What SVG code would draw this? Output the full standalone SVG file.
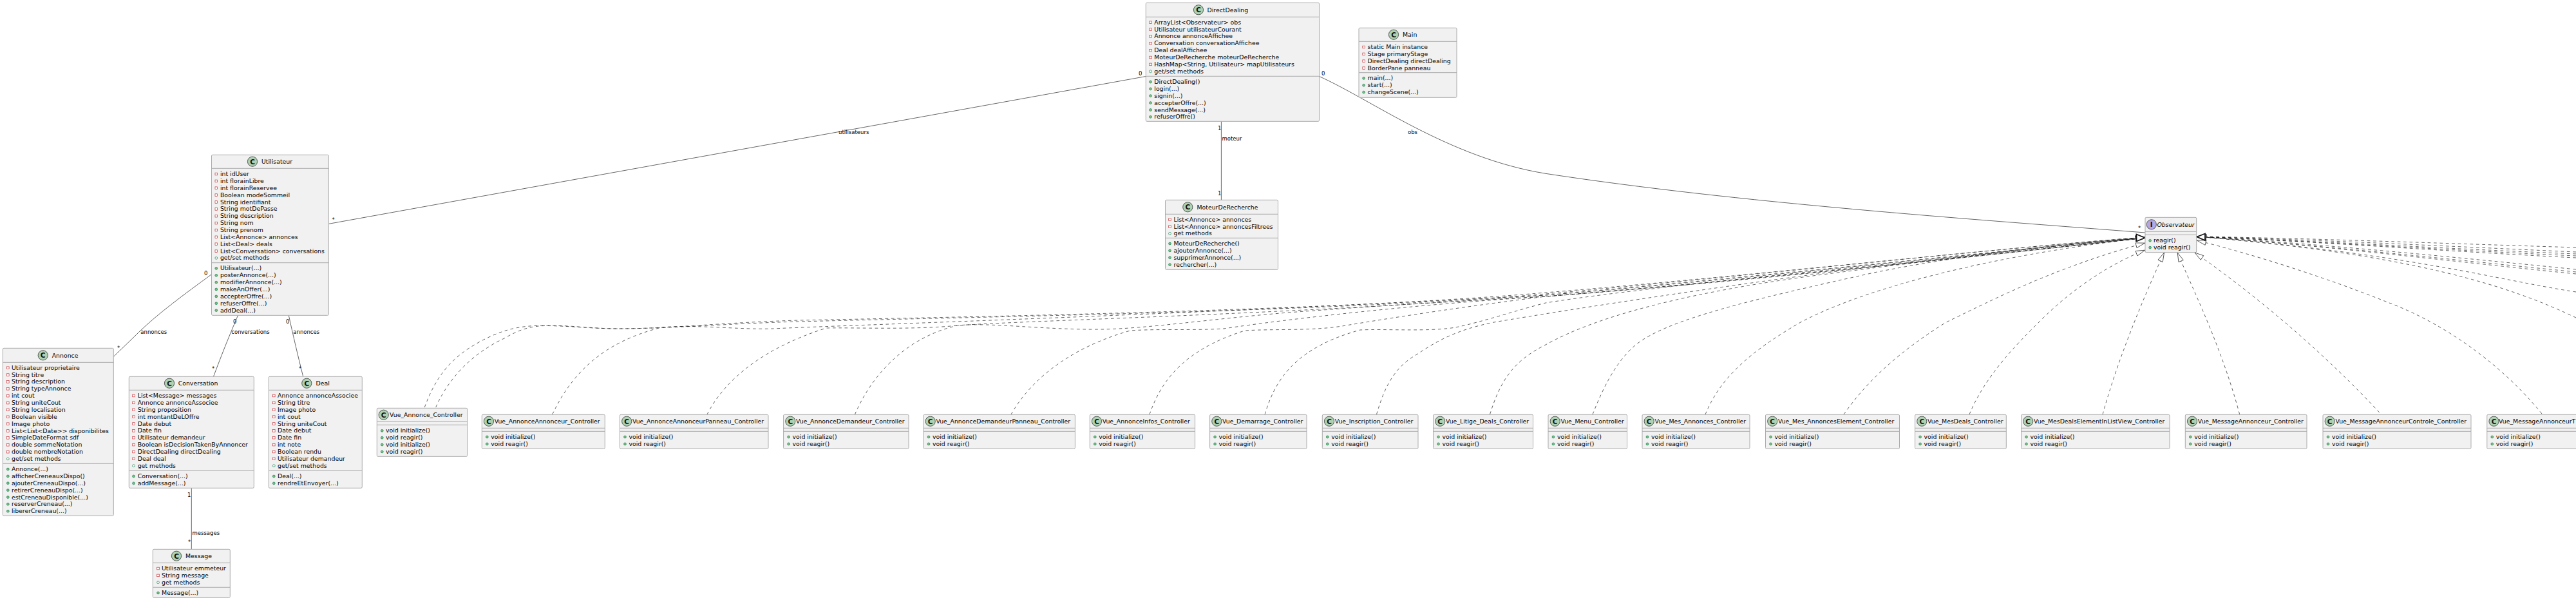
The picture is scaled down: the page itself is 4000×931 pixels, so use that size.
<svg xmlns="http://www.w3.org/2000/svg" xmlns:xlink="http://www.w3.org/1999/xlink" width="4000" height="931" viewBox="0 0 4000 931">
<style>
text{font-family:"DejaVu Sans",sans-serif;font-size:9.35px;fill:#000}
.l{font-size:8.5px}
.it{font-style:italic}
.b{fill:#F1F1F1;stroke:#ababab;stroke-width:1}
.s{stroke:#ababab;stroke-width:1;fill:none}
.ci{fill:#ADD1B2;stroke:#181818;stroke-width:.67}
.ii{fill:#B4A7E5;stroke:#181818;stroke-width:.67}
.g{font-weight:bold;font-size:10.5px;text-anchor:middle;fill:#111}
.a{fill:none;stroke:#181818;stroke-width:.67}
.d{fill:none;stroke:#181818;stroke-width:.67;stroke-dasharray:4.7 4.7;marker-end:url(#tri)}
.h{fill:#fff;stroke:#181818;stroke-width:1.8}
</style>
<defs>
<marker id="tri" markerUnits="userSpaceOnUse" markerWidth="17" markerHeight="11" refX="15.5" refY="5" orient="auto"><path d="M1,1 L15,5 L1,9 Z" fill="#fff" stroke="#181818" stroke-width=".67"/></marker>
<rect id="fp" x="-1.8" y="-1.8" width="3.6" height="3.6" fill="#fff" stroke="#C82930" stroke-width=".67"/>
<circle id="gs" r="1.9" fill="#fff" stroke="#038048" stroke-width=".67"/>
<circle id="mp" r="1.9" fill="#84BE84" stroke="#038048" stroke-width=".67"/>
</defs>
<g id="connectors">
<path class="a" d="M1779.3,118.5 L510.3,347.4"/>
<path class="a" d="M328.5,425.7 C287,456 246,486 216,515 C202,529 190,540 176.3,553.5"/>
<path class="a" d="M369.5,489.3 C360,512 350,535 331.5,584.3"/>
<path class="a" d="M448.3,489.3 C454,515 462,550 470.7,584.3"/>
<path class="a" d="M297.3,757.3 L297.3,852.3"/>
<path class="a" d="M1896.4,188.3 L1896.4,310.3"/>
<path class="a" d="M2048.5,118.5 C2130,155 2250,245 2400,269.3 C2700,315 3060,340 3331,361"/>
<path class="d" d="M659.3,632 C680,575 710,545 766,520 C790,510 810,505 850,505 C890,505 920,510 960,510 C1040,510 1130,500 1240,497 C1600,490 2100,480 2400,454 C2700,430 3100,385 3331,368"/>
<path class="d" d="M676.7,632 C695,590 730,550 783,525 C805,512 825,505 850,505.5 C890,506 920,510 960,510 C1040,510 1130,502 1240,499 C1600,490 2100,482 2400,456 C2700,430 3100,385 3331,368"/>
<path class="d" d="M857.7,643 C890,575 940,530 1027,508 C1080,503 1150,512 1200,510 C1300,505 1800,490 2400,458 C2700,432 3100,390 3331,368.5"/>
<path class="d" d="M1098,643 C1120,600 1170,545 1283,509 C1330,508 1420,512 1487,505 C1600,497 2000,488 2400,458 C2700,434 3100,390 3331,368.5"/>
<path class="d" d="M1327.5,643 C1350,590 1400,525 1487,505 C1540,500 1620,512 1710,511 C1780,510 1880,495 2000,485 C2200,470 2300,466 2400,460 C2700,436 3100,395 3331,369"/>
<path class="d" d="M1570,643 C1600,590 1660,540 1755,513 C1800,510 1850,513 1900,510 C2000,495 2200,472 2400,460 C2700,436 3100,395 3331,369"/>
<path class="d" d="M1785,643 C1800,600 1830,545 1933,513 C1980,510 2040,514 2090,505 C2180,490 2280,475 2400,460 C2700,438 3100,395 3331,369"/>
<path class="d" d="M1964,643 C1980,590 2010,540 2112,512 C2150,510 2220,515 2260,508 C2300,500 2360,480 2400,470 C2600,438 3100,395 3331,369"/>
<path class="d" d="M2137.5,643 C2150,600 2165,570 2200,550 C2230,530 2260,512 2320,500 C2450,478 2700,440 2900,415 C3050,398 3200,378 3331,369"/>
<path class="d" d="M2313.5,643 C2330,590 2350,560 2400,535 C2480,490 2620,455 2800,430 C2950,410 3150,385 3331,369"/>
<path class="d" d="M2473,643 C2490,600 2510,560 2540,535 C2590,495 2720,465 2910,423 C3050,395 3200,378 3331,369"/>
<path class="d" d="M2648,643 C2670,590 2710,550 2796,500 C2900,445 3100,395 3331,369"/>
<path class="d" d="M2863,643 C2900,590 2950,545 3022,500 C3095,465 3190,415 3331,377"/>
<path class="d" d="M3058,643 C3080,590 3120,545 3166,500 C3210,455 3270,412 3331,388"/>
<path class="d" d="M3265,643 C3285,570 3320,480 3360.7,391.7"/>
<path class="d" d="M3477.7,643 C3450,540 3410,460 3381,391.7"/>
<path class="d" d="M3694.7,640 C3620,560 3520,470 3407.6,391.7"/>
<path class="d" d="M3947,642 C3880,560 3790,500 3710,470 C3610,430 3500,395 3411,373"/>
<path class="d" d="M4000,493 C3900,445 3750,395 3411,367"/>
<path class="d" d="M4000,453 C3880,435 3750,395 3411,367"/>
<path class="d" d="M4000,425 C3800,405 3600,380 3411,367"/>
<path class="d" d="M4000,422 C3800,402 3600,380 3411,367"/>
<path class="d" d="M4000,418 C3800,398 3600,378 3411,367"/>
<path class="d" d="M4000,400 C3800,390 3600,375 3411,367"/>
<path class="d" d="M4000,397 C3800,388 3600,375 3411,367"/>
<path class="d" d="M4000,394 C3800,386 3600,374 3411,367"/>
<path class="d" d="M4000,391 C3800,382 3600,372 3411,367"/>
<path class="d" d="M4000,384 C3800,378 3600,370 3411,367"/>
<path class="h" d="M3317.5,363.5 L3330.5,369 L3317.5,374.5 Z"/>
<path class="h" d="M3424,362.5 L3411.5,367.5 L3424,373 Z"/>
<text class="l" x="1768" y="117">0</text>
<text class="l" x="515.5" y="344">*</text>
<text class="l" x="1302" y="208">utilisateurs</text>
<text class="l" x="317" y="427">0</text>
<text class="l" x="182" y="543">*</text>
<text class="l" x="218.3" y="518">annonces</text>
<text class="l" x="362" y="502">0</text>
<text class="l" x="329" y="575">*</text>
<text class="l" x="359.3" y="518">conversations</text>
<text class="l" x="444" y="502">0</text>
<text class="l" x="464" y="575">*</text>
<text class="l" x="455.3" y="518">annonces</text>
<text class="l" x="291" y="771">1</text>
<text class="l" x="292" y="844">*</text>
<text class="l" x="298.5" y="830">messages</text>
<text class="l" x="1891" y="202">1</text>
<text class="l" x="1891" y="303">1</text>
<text class="l" x="1897.5" y="217.5">moteur</text>
<text class="l" x="2052" y="117">0</text>
<text class="l" x="2186" y="208">obs</text>
<text class="l" x="3320" y="357">*</text>
</g>
<g id="Utilisateur"><rect class="b" x="328.5" y="240.3" width="181.8" height="249" rx="1.7"/><path class="s" d="M328.5,261.3H510.3M328.5,407.7H510.3"/><circle class="ci" cx="392" cy="250.7" r="7.6"/><text class="g" x="392" y="254.5">C</text><text x="406" y="254">Utilisateur</text>
<use href="#fp" x="335.8" y="270"/><text x="341.9" y="273">int idUser</text><use href="#fp" x="335.8" y="280.9"/><text x="341.9" y="283.9">int florainLibre</text><use href="#fp" x="335.8" y="291.7"/><text x="341.9" y="294.7">int florainReservee</text><use href="#fp" x="335.8" y="302.6"/><text x="341.9" y="305.6">Boolean modeSommeil</text><use href="#fp" x="335.8" y="313.5"/><text x="341.9" y="316.5">String identifiant</text><use href="#fp" x="335.8" y="324.4"/><text x="341.9" y="327.4">String motDePasse</text><use href="#fp" x="335.8" y="335.2"/><text x="341.9" y="338.2">String description</text><use href="#fp" x="335.8" y="346.1"/><text x="341.9" y="349.1">String nom</text><use href="#fp" x="335.8" y="357"/><text x="341.9" y="360">String prenom</text><use href="#fp" x="335.8" y="367.8"/><text x="341.9" y="370.8">List&lt;Annonce&gt; annonces</text><use href="#fp" x="335.8" y="378.7"/><text x="341.9" y="381.7">List&lt;Deal&gt; deals</text><use href="#fp" x="335.8" y="389.6"/><text x="341.9" y="392.6">List&lt;Conversation&gt; conversations</text><use href="#gs" x="335.8" y="400.4"/><text x="341.9" y="403.4">get/set methods</text>
<use href="#mp" x="335.8" y="416.4"/><text x="341.9" y="419.4">Utilisateur(...)</text><use href="#mp" x="335.8" y="427.3"/><text x="341.9" y="430.3">posterAnnonce(...)</text><use href="#mp" x="335.8" y="438.1"/><text x="341.9" y="441.1">modifierAnnonce(...)</text><use href="#mp" x="335.8" y="449"/><text x="341.9" y="452">makeAnOffer(...)</text><use href="#mp" x="335.8" y="459.9"/><text x="341.9" y="462.9">accepterOffre(...)</text><use href="#mp" x="335.8" y="470.7"/><text x="341.9" y="473.7">refuserOffre(...)</text><use href="#mp" x="335.8" y="481.6"/><text x="341.9" y="484.6">addDeal(...)</text></g>
<g id="Annonce"><rect class="b" x="4.3" y="540.3" width="172" height="260" rx="1.7"/><path class="s" d="M4.3,562.3H176.3M4.3,719.3H176.3"/><circle class="ci" cx="66.7" cy="551.3" r="7.6"/><text class="g" x="66.7" y="555">C</text><text x="80.7" y="555">Annonce</text>
<use href="#fp" x="12.3" y="570.7"/><text x="18" y="573.7">Utilisateur proprietaire</text><use href="#fp" x="12.3" y="581.6"/><text x="18" y="584.6">String titre</text><use href="#fp" x="12.3" y="592.4"/><text x="18" y="595.4">String description</text><use href="#fp" x="12.3" y="603.3"/><text x="18" y="606.3">String typeAnnonce</text><use href="#fp" x="12.3" y="614.2"/><text x="18" y="617.2">int cout</text><use href="#fp" x="12.3" y="625.1"/><text x="18" y="628.1">String uniteCout</text><use href="#fp" x="12.3" y="635.9"/><text x="18" y="638.9">String localisation</text><use href="#fp" x="12.3" y="646.8"/><text x="18" y="649.8">Boolean visible</text><use href="#fp" x="12.3" y="657.7"/><text x="18" y="660.7">Image photo</text><use href="#fp" x="12.3" y="668.5"/><text x="18" y="671.5">List&lt;List&lt;Date&gt;&gt; disponibilites</text><use href="#fp" x="12.3" y="679.4"/><text x="18" y="682.4">SimpleDateFormat sdf</text><use href="#fp" x="12.3" y="690.3"/><text x="18" y="693.3">double sommeNotation</text><use href="#fp" x="12.3" y="701.2"/><text x="18" y="704.2">double nombreNotation</text><use href="#gs" x="12.3" y="712"/><text x="18" y="715">get/set methods</text>
<use href="#mp" x="12.3" y="728"/><text x="18" y="731">Annonce(...)</text><use href="#mp" x="12.3" y="738.9"/><text x="18" y="741.9">afficherCreneauxDispo()</text><use href="#mp" x="12.3" y="749.7"/><text x="18" y="752.7">ajouterCreneauDispo(...)</text><use href="#mp" x="12.3" y="760.6"/><text x="18" y="763.6">retirerCreneauDispo(...)</text><use href="#mp" x="12.3" y="771.5"/><text x="18" y="774.5">estCreneauDisponible(...)</text><use href="#mp" x="12.3" y="782.3"/><text x="18" y="785.3">reserverCreneau(...)</text><use href="#mp" x="12.3" y="793.2"/><text x="18" y="796.2">libererCreneau(...)</text></g>
<g id="Conversation"><rect class="b" x="200.3" y="584.3" width="194" height="173" rx="1.7"/><path class="s" d="M200.3,605.3H394.3M200.3,730.3H394.3"/><circle class="ci" cx="263" cy="594.7" r="7.6"/><text class="g" x="263" y="598.5">C</text><text x="276.7" y="598">Conversation</text>
<use href="#fp" x="207.5" y="614"/><text x="213.7" y="617">List&lt;Message&gt; messages</text><use href="#fp" x="207.5" y="624.9"/><text x="213.7" y="627.9">Annonce annonceAssociee</text><use href="#fp" x="207.5" y="635.7"/><text x="213.7" y="638.7">String proposition</text><use href="#fp" x="207.5" y="646.6"/><text x="213.7" y="649.6">int montantDeLOffre</text><use href="#fp" x="207.5" y="657.5"/><text x="213.7" y="660.5">Date debut</text><use href="#fp" x="207.5" y="668.4"/><text x="213.7" y="671.4">Date fin</text><use href="#fp" x="207.5" y="679.2"/><text x="213.7" y="682.2">Utilisateur demandeur</text><use href="#fp" x="207.5" y="690.1"/><text x="213.7" y="693.1">Boolean isDecisionTakenByAnnoncer</text><use href="#fp" x="207.5" y="701"/><text x="213.7" y="704">DirectDealing directDealing</text><use href="#fp" x="207.5" y="711.8"/><text x="213.7" y="714.8">Deal deal</text><use href="#gs" x="207.5" y="722.7"/><text x="213.7" y="725.7">get methods</text>
<use href="#mp" x="207.5" y="739"/><text x="213.7" y="742">Conversation(...)</text><use href="#mp" x="207.5" y="749.9"/><text x="213.7" y="752.9">addMessage(...)</text></g>
<g id="Deal"><rect class="b" x="417.3" y="584.3" width="145" height="173" rx="1.7"/><path class="s" d="M417.3,605.3H562.3M417.3,730.3H562.3"/><circle class="ci" cx="476.3" cy="594.7" r="7.6"/><text class="g" x="476.3" y="598.5">C</text><text x="490.6" y="598">Deal</text>
<use href="#fp" x="425.3" y="614"/><text x="431" y="617">Annonce annonceAssociee</text><use href="#fp" x="425.3" y="624.9"/><text x="431" y="627.9">String titre</text><use href="#fp" x="425.3" y="635.7"/><text x="431" y="638.7">Image photo</text><use href="#fp" x="425.3" y="646.6"/><text x="431" y="649.6">int cout</text><use href="#fp" x="425.3" y="657.5"/><text x="431" y="660.5">String uniteCout</text><use href="#fp" x="425.3" y="668.4"/><text x="431" y="671.4">Date debut</text><use href="#fp" x="425.3" y="679.2"/><text x="431" y="682.2">Date fin</text><use href="#fp" x="425.3" y="690.1"/><text x="431" y="693.1">int note</text><use href="#fp" x="425.3" y="701"/><text x="431" y="704">Boolean rendu</text><use href="#fp" x="425.3" y="711.8"/><text x="431" y="714.8">Utilisateur demandeur</text><use href="#gs" x="425.3" y="722.7"/><text x="431" y="725.7">get/set methods</text>
<use href="#mp" x="425.3" y="739"/><text x="431" y="742">Deal(...)</text><use href="#mp" x="425.3" y="749.9"/><text x="431" y="752.9">rendreEtEnvoyer(...)</text></g>
<g id="Message"><rect class="b" x="237.3" y="852.3" width="120" height="75" rx="1.7"/><path class="s" d="M237.3,873.3H357.3M237.3,911.3H357.3"/><circle class="ci" cx="274" cy="862.7" r="7.6"/><text class="g" x="274" y="866.5">C</text><text x="288" y="866">Message</text>
<use href="#fp" x="245.5" y="882"/><text x="251" y="885">Utilisateur emmeteur</text><use href="#fp" x="245.5" y="892.9"/><text x="251" y="895.9">String message</text><use href="#gs" x="245.5" y="903.7"/><text x="251" y="906.7">get methods</text><use href="#mp" x="245.5" y="920"/><text x="251" y="923">Message(...)</text></g>
<g id="DirectDealing"><rect class="b" x="1779.3" y="4.3" width="269.2" height="184" rx="1.7"/><path class="s" d="M1779.3,26.3H2048.5M1779.3,118.3H2048.5"/><circle class="ci" cx="1861" cy="15.3" r="7.6"/><text class="g" x="1861" y="19">C</text><text x="1874.5" y="19">DirectDealing</text>
<use href="#fp" x="1786.5" y="34.7"/><text x="1792.3" y="37.7">ArrayList&lt;Observateur&gt; obs</text><use href="#fp" x="1786.5" y="45.6"/><text x="1792.3" y="48.6">Utilisateur utilisateurCourant</text><use href="#fp" x="1786.5" y="56.4"/><text x="1792.3" y="59.4">Annonce annonceAffichee</text><use href="#fp" x="1786.5" y="67.3"/><text x="1792.3" y="70.3">Conversation conversationAffichee</text><use href="#fp" x="1786.5" y="78.2"/><text x="1792.3" y="81.2">Deal dealAffichee</text><use href="#fp" x="1786.5" y="89"/><text x="1792.3" y="92">MoteurDeRecherche moteurDeRecherche</text><use href="#fp" x="1786.5" y="99.9"/><text x="1792.3" y="102.9">HashMap&lt;String, Utilisateur&gt; mapUtilisateurs</text><use href="#gs" x="1786.5" y="110.8"/><text x="1792.3" y="113.8">get/set methods</text>
<use href="#mp" x="1786.5" y="127"/><text x="1792.3" y="130">DirectDealing()</text><use href="#mp" x="1786.5" y="137.9"/><text x="1792.3" y="140.9">login(...)</text><use href="#mp" x="1786.5" y="148.7"/><text x="1792.3" y="151.7">signin(...)</text><use href="#mp" x="1786.5" y="159.6"/><text x="1792.3" y="162.6">accepterOffre(...)</text><use href="#mp" x="1786.5" y="170.5"/><text x="1792.3" y="173.5">sendMessage(...)</text><use href="#mp" x="1786.5" y="181.3"/><text x="1792.3" y="184.3">refuserOffre()</text></g>
<g id="Main" transform="translate(0,2)"><rect class="b" x="2110" y="41.3" width="152" height="108" rx="1.7"/><path class="s" d="M2110,62.3H2262M2110,110.7H2262"/><circle class="ci" cx="2164" cy="51.7" r="7.6"/><text class="g" x="2164" y="55.5">C</text><text x="2178" y="55">Main</text>
<use href="#fp" x="2117.6" y="71"/><text x="2123.6" y="74">static Main instance</text><use href="#fp" x="2117.6" y="81.9"/><text x="2123.6" y="84.9">Stage primaryStage</text><use href="#fp" x="2117.6" y="92.7"/><text x="2123.6" y="95.7">DirectDealing directDealing</text><use href="#fp" x="2117.6" y="103.6"/><text x="2123.6" y="106.6">BorderPane panneau</text>
<use href="#mp" x="2117.6" y="119.4"/><text x="2123.6" y="122.4">main(...)</text><use href="#mp" x="2117.6" y="130.3"/><text x="2123.6" y="133.3">start(...)</text><use href="#mp" x="2117.6" y="141.1"/><text x="2123.6" y="144.1">changeScene(...)</text></g>
<g id="MoteurDeRecherche"><rect class="b" x="1809.5" y="310.3" width="175" height="108" rx="1.7"/><path class="s" d="M1809.5,332.3H1984.5M1809.5,369.3H1984.5"/><circle class="ci" cx="1844.3" cy="321.3" r="7.6"/><text class="g" x="1844.3" y="325">C</text><text x="1858.5" y="325">MoteurDeRecherche</text>
<use href="#fp" x="1816.5" y="340.7"/><text x="1822.5" y="343.7">List&lt;Annonce&gt; annonces</text><use href="#fp" x="1816.5" y="351.6"/><text x="1822.5" y="354.6">List&lt;Annonce&gt; annoncesFiltrees</text><use href="#gs" x="1816.5" y="362.4"/><text x="1822.5" y="365.4">get methods</text>
<use href="#mp" x="1816.5" y="378"/><text x="1822.5" y="381">MoteurDeRecherche()</text><use href="#mp" x="1816.5" y="388.9"/><text x="1822.5" y="391.9">ajouterAnnonce(...)</text><use href="#mp" x="1816.5" y="399.7"/><text x="1822.5" y="402.7">supprimerAnnonce(...)</text><use href="#mp" x="1816.5" y="410.6"/><text x="1822.5" y="413.6">rechercher(...)</text></g>
<g id="Observateur"><rect class="b" x="3331" y="337.3" width="79.7" height="54.4" rx="1.7"/><path class="s" d="M3331,359.3H3410.7M3331,364.3H3410.7"/><circle class="ii" cx="3340.8" cy="348.3" r="7.6"/><text class="g" x="3340.8" y="352">I</text><text class="it" x="3349.5" y="352">Observateur</text>
<use href="#mp" x="3338.6" y="373.3"/><text x="3343.9" y="376.3">reagir()</text><use href="#mp" x="3338.6" y="384.1"/><text x="3343.9" y="387.1">void reagir()</text></g>
<g id="Vue_Annonce_Controller"><rect class="b" x="585.3" y="633.3" width="140.4" height="75" rx="1.7"/><path class="s" d="M585.3,654.3H725.7M585.3,659.3H725.7"/><circle class="ci" cx="595.7" cy="643.7" r="7.6"/><text class="g" x="595.7" y="647.5">C</text><text x="605" y="647">Vue_Annonce_Controller</text>
<use href="#mp" x="593.3" y="668.3"/><text x="599" y="671.3">void initialize()</text><use href="#mp" x="593.3" y="679.2"/><text x="599" y="682.2">void reagir()</text><use href="#mp" x="593.3" y="690"/><text x="599" y="693">void initialize()</text><use href="#mp" x="593.3" y="700.9"/><text x="599" y="703.9">void reagir()</text></g>
<g id="Vue_AnnonceAnnonceur_Controller"><rect class="b" x="748.3" y="643.3" width="191" height="53" rx="1.7"/><path class="s" d="M748.3,664.3H939.3M748.3,669.3H939.3"/><circle class="ci" cx="759" cy="653.7" r="7.6"/><text class="g" x="759" y="657.5">C</text><text x="767.7" y="657">Vue_AnnonceAnnonceur_Controller</text><use href="#mp" x="756.3" y="678"/><text x="762.3" y="681">void initialize()</text><use href="#mp" x="756.3" y="688.9"/><text x="762.3" y="691.9">void reagir()</text></g>
<g id="Vue_AnnonceAnnonceurPanneau_Controller"><rect class="b" x="962.5" y="643.3" width="230.5" height="53" rx="1.7"/><path class="s" d="M962.5,664.3H1193M962.5,669.3H1193"/><circle class="ci" cx="973.2" cy="653.7" r="7.6"/><text class="g" x="973.2" y="657.5">C</text><text x="981.9" y="657">Vue_AnnonceAnnonceurPanneau_Controller</text><use href="#mp" x="970.5" y="678"/><text x="976.5" y="681">void initialize()</text><use href="#mp" x="970.5" y="688.9"/><text x="976.5" y="691.9">void reagir()</text></g>
<g id="Vue_AnnonceDemandeur_Controller"><rect class="b" x="1216.6" y="643.3" width="194.4" height="53" rx="1.7"/><path class="s" d="M1216.6,664.3H1411M1216.6,669.3H1411"/><circle class="ci" cx="1227.3" cy="653.7" r="7.6"/><text class="g" x="1227.3" y="657.5">C</text><text x="1236" y="657">Vue_AnnonceDemandeur_Controller</text><use href="#mp" x="1224.6" y="678"/><text x="1230.6" y="681">void initialize()</text><use href="#mp" x="1224.6" y="688.9"/><text x="1230.6" y="691.9">void reagir()</text></g>
<g id="Vue_AnnonceDemandeurPanneau_Controller"><rect class="b" x="1434" y="643.3" width="235.4" height="53" rx="1.7"/><path class="s" d="M1434,664.3H1669.4M1434,669.3H1669.4"/><circle class="ci" cx="1444.7" cy="653.7" r="7.6"/><text class="g" x="1444.7" y="657.5">C</text><text x="1453.4" y="657">Vue_AnnonceDemandeurPanneau_Controller</text><use href="#mp" x="1442" y="678"/><text x="1448" y="681">void initialize()</text><use href="#mp" x="1442" y="688.9"/><text x="1448" y="691.9">void reagir()</text></g>
<g id="Vue_AnnonceInfos_Controller"><rect class="b" x="1692.3" y="643.3" width="163.3" height="53" rx="1.7"/><path class="s" d="M1692.3,664.3H1855.6M1692.3,669.3H1855.6"/><circle class="ci" cx="1703" cy="653.7" r="7.6"/><text class="g" x="1703" y="657.5">C</text><text x="1711.7" y="657">Vue_AnnonceInfos_Controller</text><use href="#mp" x="1700.3" y="678"/><text x="1706.3" y="681">void initialize()</text><use href="#mp" x="1700.3" y="688.9"/><text x="1706.3" y="691.9">void reagir()</text></g>
<g id="Vue_Demarrage_Controller"><rect class="b" x="1878.6" y="643.3" width="150.4" height="53" rx="1.7"/><path class="s" d="M1878.6,664.3H2029M1878.6,669.3H2029"/><circle class="ci" cx="1889.3" cy="653.7" r="7.6"/><text class="g" x="1889.3" y="657.5">C</text><text x="1898" y="657">Vue_Demarrage_Controller</text><use href="#mp" x="1886.6" y="678"/><text x="1892.6" y="681">void initialize()</text><use href="#mp" x="1886.6" y="688.9"/><text x="1892.6" y="691.9">void reagir()</text></g>
<g id="Vue_Inscription_Controller"><rect class="b" x="2053.3" y="643.3" width="148.7" height="53" rx="1.7"/><path class="s" d="M2053.3,664.3H2202M2053.3,669.3H2202"/><circle class="ci" cx="2064" cy="653.7" r="7.6"/><text class="g" x="2064" y="657.5">C</text><text x="2072.7" y="657">Vue_Inscription_Controller</text><use href="#mp" x="2061.3" y="678"/><text x="2067.3" y="681">void initialize()</text><use href="#mp" x="2061.3" y="688.9"/><text x="2067.3" y="691.9">void reagir()</text></g>
<g id="Vue_Litige_Deals_Controller"><rect class="b" x="2225.5" y="643.3" width="155" height="53" rx="1.7"/><path class="s" d="M2225.5,664.3H2380.5M2225.5,669.3H2380.5"/><circle class="ci" cx="2236.2" cy="653.7" r="7.6"/><text class="g" x="2236.2" y="657.5">C</text><text x="2244.9" y="657">Vue_Litige_Deals_Controller</text><use href="#mp" x="2233.5" y="678"/><text x="2239.5" y="681">void initialize()</text><use href="#mp" x="2233.5" y="688.9"/><text x="2239.5" y="691.9">void reagir()</text></g>
<g id="Vue_Menu_Controller"><rect class="b" x="2404" y="643.3" width="122.5" height="53" rx="1.7"/><path class="s" d="M2404,664.3H2526.5M2404,669.3H2526.5"/><circle class="ci" cx="2414.7" cy="653.7" r="7.6"/><text class="g" x="2414.7" y="657.5">C</text><text x="2423.4" y="657">Vue_Menu_Controller</text><use href="#mp" x="2412" y="678"/><text x="2418" y="681">void initialize()</text><use href="#mp" x="2412" y="688.9"/><text x="2418" y="691.9">void reagir()</text></g>
<g id="Vue_Mes_Annonces_Controller"><rect class="b" x="2550" y="643.3" width="167" height="53" rx="1.7"/><path class="s" d="M2550,664.3H2717M2550,669.3H2717"/><circle class="ci" cx="2560.7" cy="653.7" r="7.6"/><text class="g" x="2560.7" y="657.5">C</text><text x="2569.4" y="657">Vue_Mes_Annonces_Controller</text><use href="#mp" x="2558" y="678"/><text x="2564" y="681">void initialize()</text><use href="#mp" x="2558" y="688.9"/><text x="2564" y="691.9">void reagir()</text></g>
<g id="Vue_Mes_AnnoncesElement_Controller"><rect class="b" x="2741.5" y="643.3" width="208" height="53" rx="1.7"/><path class="s" d="M2741.5,664.3H2949.5M2741.5,669.3H2949.5"/><circle class="ci" cx="2752.2" cy="653.7" r="7.6"/><text class="g" x="2752.2" y="657.5">C</text><text x="2760.9" y="657">Vue_Mes_AnnoncesElement_Controller</text><use href="#mp" x="2749.5" y="678"/><text x="2755.5" y="681">void initialize()</text><use href="#mp" x="2749.5" y="688.9"/><text x="2755.5" y="691.9">void reagir()</text></g>
<g id="Vue_MesDeals_Controller"><rect class="b" x="2973.6" y="643.3" width="141.7" height="53" rx="1.7"/><path class="s" d="M2973.6,664.3H3115.3M2973.6,669.3H3115.3"/><circle class="ci" cx="2984.3" cy="653.7" r="7.6"/><text class="g" x="2984.3" y="657.5">C</text><text x="2993" y="657">Vue_MesDeals_Controller</text><use href="#mp" x="2981.6" y="678"/><text x="2987.6" y="681">void initialize()</text><use href="#mp" x="2981.6" y="688.9"/><text x="2987.6" y="691.9">void reagir()</text></g>
<g id="Vue_MesDealsElementInListView_Controller"><rect class="b" x="3138.5" y="643.3" width="230.5" height="53" rx="1.7"/><path class="s" d="M3138.5,664.3H3369M3138.5,669.3H3369"/><circle class="ci" cx="3149.2" cy="653.7" r="7.6"/><text class="g" x="3149.2" y="657.5">C</text><text x="3157.9" y="657">Vue_MesDealsElementInListView_Controller</text><use href="#mp" x="3146.5" y="678"/><text x="3152.5" y="681">void initialize()</text><use href="#mp" x="3146.5" y="688.9"/><text x="3152.5" y="691.9">void reagir()</text></g>
<g id="Vue_MessageAnnonceur_Controller"><rect class="b" x="3393.3" y="643.3" width="188.7" height="53" rx="1.7"/><path class="s" d="M3393.3,664.3H3582M3393.3,669.3H3582"/><circle class="ci" cx="3404" cy="653.7" r="7.6"/><text class="g" x="3404" y="657.5">C</text><text x="3412.7" y="657">Vue_MessageAnnonceur_Controller</text><use href="#mp" x="3401.3" y="678"/><text x="3407.3" y="681">void initialize()</text><use href="#mp" x="3401.3" y="688.9"/><text x="3407.3" y="691.9">void reagir()</text></g>
<g id="Vue_MessageAnnonceurControle_Controller"><rect class="b" x="3607" y="643.3" width="230" height="53" rx="1.7"/><path class="s" d="M3607,664.3H3837M3607,669.3H3837"/><circle class="ci" cx="3617.7" cy="653.7" r="7.6"/><text class="g" x="3617.7" y="657.5">C</text><text x="3626.4" y="657">Vue_MessageAnnonceurControle_Controller</text><use href="#mp" x="3615" y="678"/><text x="3621" y="681">void initialize()</text><use href="#mp" x="3615" y="688.9"/><text x="3621" y="691.9">void reagir()</text></g>
<g id="Vue_MessageAnnonceurT"><rect class="b" x="3861.8" y="643.3" width="240" height="53" rx="1.7"/><path class="s" d="M3861.8,664.3H4101.8M3861.8,669.3H4101.8"/><circle class="ci" cx="3872.5" cy="653.7" r="7.6"/><text class="g" x="3872.5" y="657.5">C</text><text x="3880" y="657">Vue_MessageAnnonceurT</text><use href="#mp" x="3869.8" y="678"/><text x="3875.8" y="681">void initialize()</text><use href="#mp" x="3869.8" y="688.9"/><text x="3875.8" y="691.9">void reagir()</text></g>
</svg>
